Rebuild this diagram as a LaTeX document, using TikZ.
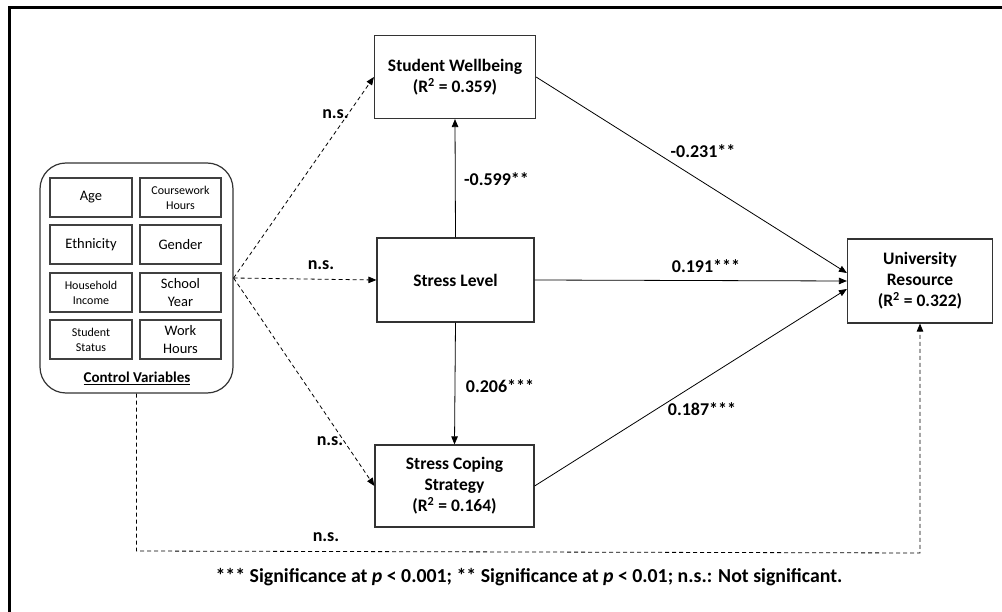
\documentclass[tikz,border=0pt]{standalone}
\usepackage{fontspec}
\setmainfont{Carlito}
\usetikzlibrary{arrows.meta,calc}
\begin{document}
\begin{tikzpicture}[x=1pt,y=-1pt,
  mainbox/.style={draw=black!80,line width=1.2pt,fill=white,align=center,inner sep=0pt,
    font=\bfseries\fontsize{17.5}{21}\selectfont},
  cvbox/.style={draw=black!75,line width=1.2pt,align=center,inner sep=0pt,
    minimum height=39pt},
  big/.style={font=\fontsize{14.5}{18}\selectfont},
  small/.style={font=\fontsize{12}{15}\selectfont},
  lbl/.style={font=\bfseries\fontsize{18}{20}\selectfont,inner sep=0pt},
  conn/.style={draw=black,line width=0.8pt,-{Triangle[length=8pt,width=6.5pt]}},
  dconn/.style={conn,dash pattern=on 4pt off 3pt}
]
\useasboundingbox (0,0) rectangle (1002,612);
\draw[line width=2.5pt] (9.5,612) -- (9.5,7.5) -- (1002,7.5);

% control variables
\node[draw=black!80,line width=1.2pt,rounded corners=26pt,minimum width=193pt,minimum height=230pt] (ctrl) at (136.5,278) {};
\node[cvbox,big,minimum width=82pt] (age) at (91,197.5) {Age};
\node[cvbox,small,minimum width=81pt] (cwh) at (180.5,197.5) {Coursework\\Hours};
\node[cvbox,big,minimum width=82pt] (eth) at (91,244.5) {Ethnicity};
\node[cvbox,big,minimum width=81pt] (gen) at (180.5,244.5) {Gender};
\node[cvbox,small,minimum width=82pt] (hhi) at (91,292.5) {Household\\Income};
\node[cvbox,big,minimum width=81pt] (scy) at (180.5,292.5) {School\\Year};
\node[cvbox,small,minimum width=82pt] (sst) at (91,339.5) {Student\\Status};
\node[cvbox,big,minimum width=81pt] (wkh) at (180.5,339.5) {Work\\Hours};
\node[font=\bfseries\fontsize{15}{18}\selectfont,inner sep=0pt] (cvl) at (137,378) {\underline{Control Variables}};

% main boxes
\node[mainbox,minimum width=161pt,minimum height=83pt] (sw) at (455,77) {Student Wellbeing\\(R\textsuperscript{2} = 0.359)};
\node[mainbox,minimum width=157pt,minimum height=84pt] (sl) at (455.5,280) {Stress Level};
\node[mainbox,minimum width=159pt,minimum height=82pt] (sc) at (454.5,486) {Stress Coping\\Strategy\\(R\textsuperscript{2} = 0.164)};
\node[mainbox,minimum width=145pt,minimum height=84pt] (ur) at (920,281) {University\\Resource\\(R\textsuperscript{2} = 0.322)};

% connectors
\draw[dconn] (ctrl.east) -- (sw.west);
\draw[dconn] (ctrl.east) -- (sl.west);
\draw[dconn] (ctrl.east) -- (sc.west);
\draw[conn] (sl.north) -- (sw.south);
\draw[conn] (sl.south) -- (sc.north);
\draw[conn] (sw.east) -- ($(ur.west)+(0,-8)$);
\draw[conn] (sl.east) -- (ur.west);
\draw[conn] (sc.east) -- ($(ur.west)+(0,8)$);
\coordinate (c1) at (ctrl.south |- 0,551);
\coordinate (c2) at (ur.south |- 0,553);
\draw[dconn] (ctrl.south) -- (c1) -- (c2) -- (ur.south);

% labels
\node[lbl] (l1) at (335.5,114) {n.s.};
\node[lbl] (l2) at (321,265) {n.s.};
\node[lbl] (l3) at (330,441) {n.s.};
\node[lbl] (l4) at (326,537) {n.s.};
\node[lbl] (l5) at (496.5,179.5) {-0.599**};
\node[lbl] (l6) at (500,386) {0.206***};
\node[lbl] (l7) at (703,151.5) {-0.231**};
\node[lbl] (l8) at (706,266.5) {0.191***};
\node[lbl] (l9) at (702,409) {0.187***};
\node[font=\bfseries\fontsize{19.8}{22}\selectfont,inner sep=0pt] (foot) at (529,577) {*** Significance at \textit{p} < 0.001; ** Significance at \textit{p} < 0.01; n.s.: Not significant.};
\end{tikzpicture}
\end{document}
